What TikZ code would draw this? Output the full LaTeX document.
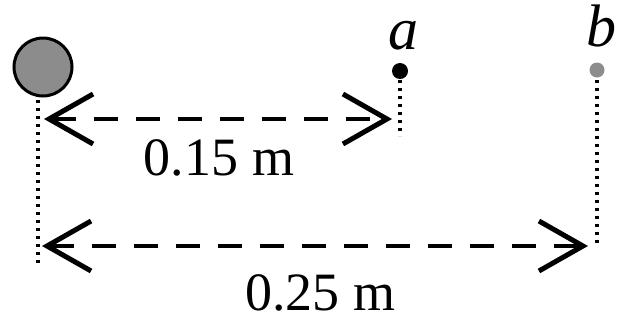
\documentclass[tikz,border=0pt]{standalone}
\usepackage{fontspec}
\setmainfont{Liberation Serif}
\usetikzlibrary{arrows.meta}
\begin{document}
\begin{tikzpicture}[x=1pt,y=-1pt,
  dim/.style={line width=3.8pt, dash pattern=on 24pt off 18pt,
    {Straight Barb[length=44pt,width=50pt,line width=5pt]}-{Straight Barb[length=44pt,width=50pt,line width=5pt]}},
  dotline/.style={line width=3.6pt, dash pattern=on 3pt off 5pt},
  lbl/.style={font=\fontsize{54}{60}\selectfont, inner sep=0pt},
  ptlbl/.style={font=\fontsize{60}{64}\selectfont\itshape, inner sep=0pt}]
\useasboundingbox (0,0) rectangle (621,322);
\node[circle, draw, line width=3pt, fill=black!45, minimum size=58pt, inner sep=0pt] (c) at (43,67) {};
\node[circle, fill=black, minimum size=16pt, inner sep=0pt] (a) at (400,71) {};
\node[circle, fill=black!45, minimum size=15pt, inner sep=0pt] (b) at (597,70) {};
\node[ptlbl] (la) at (403,36) {a};
\node[ptlbl] (lb) at (601,26) {b};
\coordinate (c1) at (38,100);
\coordinate (c2) at (38,266);
\coordinate (a1) at (400,80);
\coordinate (a2) at (400,136);
\coordinate (b1) at (597,80);
\coordinate (b2) at (597,246);
\draw[dotline] (c1) -- (c2);
\draw[dotline] (a1) -- (a2);
\draw[dotline] (b1) -- (b2);
\coordinate (p1) at (44,119);
\coordinate (p2) at (392,119);
\coordinate (q1) at (42,246);
\coordinate (q2) at (588,246);
\draw[dim] (p1) -- (p2);
\draw[dim] (q1) -- (q2);
\node[lbl] (t1) at (219,158) {0.15 m};
\node[lbl] (t2) at (320,293) {0.25 m};
\end{tikzpicture}
\end{document}
